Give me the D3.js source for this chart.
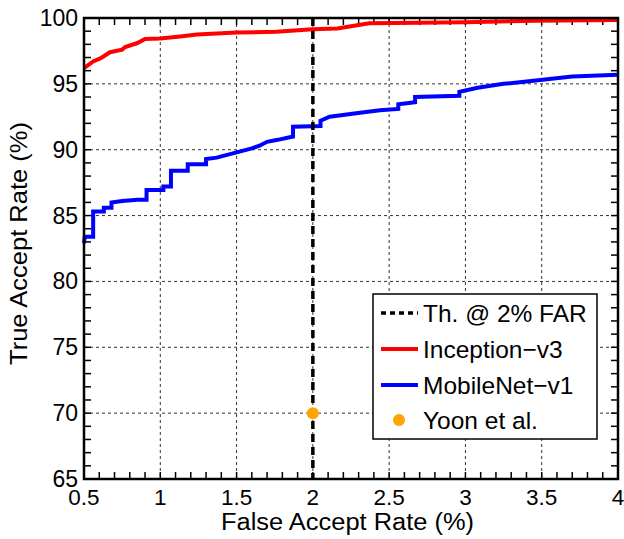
<!DOCTYPE html>
<html>
<head>
<meta charset="utf-8">
<script src="https://cdn.jsdelivr.net/npm/d3@7"></script>
<style>
  body { margin: 0; background: #fff; }
  svg { display: block; font-family: "Liberation Sans", Arial, sans-serif; }
</style>
</head>
<body>
<div id="chart"></div>
<script>
// ROC data
var inceptionFar = [0.5, 0.56, 0.61, 0.67, 0.75, 0.77, 0.85, 0.9, 1.0, 1.13, 1.24, 1.5, 1.76, 2.0, 2.16, 2.37, 3.0, 3.46, 4.0];
var inceptionTar = [96.2, 96.7, 96.95, 97.4, 97.6, 97.8, 98.1, 98.4, 98.45, 98.6, 98.75, 98.9, 98.95, 99.15, 99.2, 99.6, 99.67, 99.8, 99.85];

var mobileFar = [0.5, 0.505, 0.56, 0.56, 0.63, 0.63, 0.68, 0.68, 0.75, 0.85, 0.91, 0.91, 1.02, 1.02, 1.07, 1.07, 1.18, 1.18, 1.3, 1.3, 1.37, 1.5, 1.6, 1.65, 1.7, 1.77, 1.87, 1.87, 2.05, 2.05, 2.11, 2.31, 2.44, 2.56, 2.56, 2.67, 2.67, 2.96, 2.96, 3.08, 3.25, 3.46, 3.7, 4.0];
var mobileTar = [82.9, 83.4, 83.4, 85.3, 85.3, 85.6, 85.6, 86.0, 86.1, 86.2, 86.2, 86.95, 86.95, 87.2, 87.2, 88.4, 88.4, 88.9, 88.9, 89.3, 89.4, 89.8, 90.1, 90.3, 90.6, 90.75, 91.0, 91.75, 91.8, 92.2, 92.5, 92.8, 93.0, 93.1, 93.45, 93.6, 94.0, 94.1, 94.4, 94.7, 95.0, 95.25, 95.55, 95.7];

var thresholdFar = 2;
var yoonFar = [2];
var yoonTar = [70];

var xTicks = [0.5, 1, 1.5, 2, 2.5, 3, 3.5, 4];
var yTicks = [65, 70, 75, 80, 85, 90, 95, 100];
var legendLabels = ['Th. @ 2% FAR', 'Inception\u2212v3', 'MobileNet\u2212v1', 'Yoon et al.'];

var W = 624, H = 539;
var L = 84, R = 618, T = 18, B = 479;

var svg = d3.select('#chart').append('svg')
  .attr('width', W).attr('height', H);

var x = d3.scaleLinear().domain([0.5, 4]).range([L, R]);
var y = d3.scaleLinear().domain([65, 100]).range([B, T]);

// grid
var grid = svg.append('g')
  .attr('stroke', '#333').attr('stroke-width', 1)
  .attr('stroke-dasharray', '3,3');
grid.selectAll('.gx').data(xTicks.slice(1, -1)).join('line')
  .attr('x1', function (d) { return x(d); }).attr('x2', function (d) { return x(d); })
  .attr('y1', T).attr('y2', B);
grid.selectAll('.gy').data(yTicks.slice(1, -1)).join('line')
  .attr('y1', function (d) { return y(d); }).attr('y2', function (d) { return y(d); })
  .attr('x1', L).attr('x2', R);

// ticks on all four sides
var xMinor = d3.range(5, 41).map(function (d) { return d / 10; });
var yMinor = d3.range(65, 101);
var tickLen = 7;
var tk = svg.append('g').attr('stroke', '#000').attr('stroke-width', 1.5);
[B, T].forEach(function (base, i) {
  tk.append('g').selectAll('line').data(xMinor).join('line')
    .attr('x1', function (d) { return x(d); }).attr('x2', function (d) { return x(d); })
    .attr('y1', base).attr('y2', i === 0 ? base - tickLen : base + tickLen);
});
[L, R].forEach(function (base, i) {
  tk.append('g').selectAll('line').data(yMinor).join('line')
    .attr('y1', function (d) { return y(d); }).attr('y2', function (d) { return y(d); })
    .attr('x1', base).attr('x2', i === 0 ? base + tickLen : base - tickLen);
});

// curves
var line = d3.line()
  .x(function (d) { return x(d[0]); })
  .y(function (d) { return y(d[1]); });

svg.append('path')
  .datum(mobileFar.map(function (f, i) { return [f, mobileTar[i]]; }))
  .attr('d', line).attr('fill', 'none')
  .attr('stroke', '#0000ff').attr('stroke-width', 4);

svg.append('path')
  .datum(inceptionFar.map(function (f, i) { return [f, inceptionTar[i]]; }))
  .attr('d', line).attr('fill', 'none')
  .attr('stroke', '#ff0000').attr('stroke-width', 4);

// threshold
svg.append('line')
  .attr('x1', x(thresholdFar)).attr('x2', x(thresholdFar))
  .attr('y1', y(100)).attr('y2', y(65))
  .attr('stroke', '#000').attr('stroke-width', 3.5)
  .attr('stroke-dasharray', '8,5');

svg.selectAll('.yoon').data(yoonFar).join('circle')
  .attr('cx', function (d) { return x(d); })
  .attr('cy', function (d, i) { return y(yoonTar[i]); })
  .attr('r', 6).attr('fill', '#ffa500');

// frame
svg.append('rect')
  .attr('x', L).attr('y', T).attr('width', R - L).attr('height', B - T)
  .attr('fill', 'none').attr('stroke', '#000').attr('stroke-width', 2.5);

// tick labels
svg.append('g').selectAll('text').data(xTicks).join('text')
  .attr('x', function (d) { return x(d); }).attr('y', 505)
  .attr('text-anchor', 'middle').attr('font-size', 22.5)
  .text(function (d) { return d; });
svg.append('g').selectAll('text').data(yTicks).join('text')
  .attr('x', L - 6).attr('y', function (d) { return y(d); })
  .attr('dy', '0.35em')
  .attr('text-anchor', 'end').attr('font-size', 23)
  .text(function (d) { return d; });

// axis titles
svg.append('text')
  .attr('x', 221).attr('y', 530)
  .attr('font-size', 23)
  .attr('textLength', 253).attr('lengthAdjust', 'spacingAndGlyphs')
  .text('False Accept Rate (%)');
svg.append('text')
  .attr('transform', 'translate(27,365) rotate(-90)')
  .attr('font-size', 24)
  .attr('textLength', 243).attr('lengthAdjust', 'spacingAndGlyphs')
  .text('True Accept Rate (%)');

// legend
var lg = svg.append('g');
lg.append('rect')
  .attr('x', 373).attr('y', 294).attr('width', 224).attr('height', 145)
  .attr('fill', '#fff').attr('stroke', '#000').attr('stroke-width', 1.5);
var rowY = [313, 349, 385, 420];
var styles = [
  { stroke: '#000', dash: '5,4', w: 3.5 },
  { stroke: '#ff0000', dash: null, w: 4 },
  { stroke: '#0000ff', dash: null, w: 4 }
];
styles.forEach(function (s, i) {
  lg.append('line')
    .attr('x1', 381).attr('x2', 418)
    .attr('y1', rowY[i]).attr('y2', rowY[i])
    .attr('stroke', s.stroke).attr('stroke-width', s.w)
    .attr('stroke-dasharray', s.dash);
});
lg.append('circle').attr('cx', 399).attr('cy', rowY[3]).attr('r', 6).attr('fill', '#ffa500');
lg.selectAll('text').data(legendLabels).join('text')
  .attr('x', 423).attr('y', function (d, i) { return rowY[i]; })
  .attr('dy', '0.35em').attr('font-size', 24.5)
  .text(function (d) { return d; });
</script>
</body>
</html>
